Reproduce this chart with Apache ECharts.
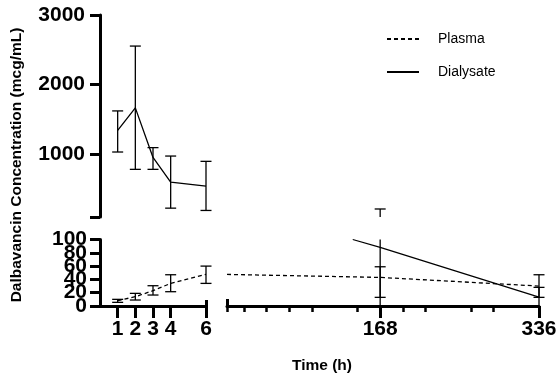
<!DOCTYPE html>
<html>
<head>
<meta charset="utf-8">
<script src="https://cdn.jsdelivr.net/npm/echarts@6/dist/echarts.min.js"></script>
<style>
    body { margin: 0; background: #fff; }
    #chart { width: 556px; height: 379px; }
</style>
</head>
<body>
<div id="chart"></div>
<script>
    // values
    const times = [1, 2, 3, 4, 6, 168, 336];

    const plasmaMean = [8, 14, 23, 34, 47.5, 43, 30];
    const plasmaLow = [5.5, 9, 16.5, 21.5, 34, 13, 13];
    const plasmaHigh = [10, 19, 30.5, 47, 60, 59, 47];

    const dialysateMean = [1345, 1667, 955, 602, 544, 88, 13.5];
    const dialysateLow = [1033, 784, 784, 227, 194, -39, -1];
    const dialysateHigh = [1623, 2554, 1096, 975, 899, 215, 28];

    // the solid dialysate line drawn in the lower right panel
    const dialysateLateX = [139, 168, 336];
    const dialysateLateY = [100, 88, 13.5];

    const leftTicks = [1, 2, 3, 4, 6];
    const rightTicks = [168, 336];
    const rightMinorTicks = [6, 24, 48, 72, 96, 144, 192, 216, 264, 288];
    const breakTicks = [6];
    const topTicks = [1000, 2000, 3000];
    const lowTicks = [0, 20, 40, 60, 80, 100];
    // the low labels overlap, so they are laid out on two axes
    const lowLabelsA = [0, 40, 80];
    const lowLabelsB = [20, 60, 100];

    const font = "'Liberation Sans', Arial, sans-serif";

    function pairs(xs, ys, from, to) {
        let out = [];
        xs.forEach((x, i) => {
            if (x >= from && x <= to) out.push([x, ys[i]]);
        });
        return out;
    }

    function bars(lows, highs, from, to) {
        let out = [];
        times.forEach((t, i) => {
            if (t >= from && t <= to) out.push([t, lows[i], highs[i]]);
        });
        return out;
    }

    function errorBar(params, api) {
        let cs = params.coordSys;
        let top = cs.y, bot = cs.y + cs.height;
        let x = api.value(0);
        let pLo = api.coord([x, api.value(1)]);
        let pHi = api.coord([x, api.value(2)]);
        let px = pLo[0];
        let clamp = v => Math.min(bot, Math.max(top, v));
        let style = { stroke: '#000', lineWidth: 1.3 };
        let children = [];
        let a = clamp(pHi[1]), b = clamp(pLo[1]);
        if (b - a > 0.5) {
            children.push({ type: 'line', shape: { x1: px, y1: a, x2: px, y2: b }, style: style });
        }
        [pHi[1], pLo[1]].forEach(y => {
            if (y >= top - 0.5 && y <= bot + 0.5) {
                children.push({ type: 'line', shape: { x1: px - 5.5, y1: y, x2: px + 5.5, y2: y }, style: style });
            }
        });
        return { type: 'group', children: children };
    }

    function errSeries(data, xi, yi) {
        return {
            type: 'custom',
            xAxisIndex: xi,
            yAxisIndex: yi,
            renderItem: errorBar,
            encode: { x: 0, y: [1, 2] },
            data: data,
            clip: false,
            z: 3
        };
    }

    // an axis that only draws a few extra ticks
    function tickAxis(grid, min, max, values, len, inside, width) {
        return {
            gridIndex: grid, type: 'value', min: min, max: max, position: 'bottom',
            axisLine: { show: false },
            axisTick: { show: true, inside: inside, customValues: values, length: len, lineStyle: { color: '#000', width: width } },
            axisLabel: { show: false },
            splitLine: { show: false }
        };
    }

    let labelStyle = { color: '#000', fontWeight: 'bold', fontSize: 21, fontFamily: font, formatter: v => String(v), hideOverlap: false, showMinLabel: true, showMaxLabel: true };
    let axisLine = { show: true, lineStyle: { color: '#000', width: 3 } };
    let tickLine = { color: '#000', width: 3 };

    let chart = echarts.init(document.getElementById('chart'));

    let option = {
        animation: false,
        backgroundColor: '#fff',
        grid: [
            { left: 100, top: 15, width: 106, height: 202, outerBoundsMode: 'none' },
            { left: 227, top: 15, width: 312, height: 202, outerBoundsMode: 'none' },
            { left: 100, top: 239.5, width: 106, height: 66.5, outerBoundsMode: 'none' },
            { left: 227, top: 239.5, width: 312, height: 66.5, outerBoundsMode: 'none' }
        ],
        legend: {
            data: ['Plasma', 'Dialysate'],
            orient: 'vertical',
            left: 381,
            top: 27,
            itemWidth: 32,
            itemHeight: 14,
            itemGap: 19,
            itemStyle: { opacity: 0 },
            textStyle: { color: '#000', fontSize: 14, fontFamily: font, padding: [0, 0, 0, 14] }
        },
        graphic: [
            {
                type: 'text',
                x: 17,
                y: 165,
                rotation: Math.PI / 2,
                style: {
                    text: 'Dalbavancin Concentration (mcg/mL)',
                    font: 'bold 15.5px ' + font,
                    fill: '#000',
                    textAlign: 'center',
                    textVerticalAlign: 'middle'
                }
            },
            {
                type: 'text',
                x: 322,
                y: 366,
                style: {
                    text: 'Time (h)',
                    font: 'bold 15.5px ' + font,
                    fill: '#000',
                    textAlign: 'center',
                    textVerticalAlign: 'middle'
                }
            }
        ],
        xAxis: [
            { gridIndex: 0, type: 'value', min: 0, max: 6, show: false },
            { gridIndex: 1, type: 'value', min: 6, max: 336, show: false },
            {
                gridIndex: 2, type: 'value', min: 0, max: 6, position: 'bottom',
                axisLine: axisLine,
                axisTick: { show: true, customValues: leftTicks, length: 12, lineStyle: tickLine },
                axisLabel: Object.assign({ customValues: leftTicks, margin: 13 }, labelStyle),
                splitLine: { show: false }
            },
            {
                gridIndex: 3, type: 'value', min: 6, max: 336, position: 'bottom',
                axisLine: axisLine,
                axisTick: { show: true, customValues: rightTicks, length: 12, lineStyle: tickLine },
                axisLabel: Object.assign({ customValues: rightTicks, margin: 13 }, labelStyle),
                splitLine: { show: false }
            },
            tickAxis(3, 6, 336, rightMinorTicks, 6, false, 2.5),
            tickAxis(3, 6, 336, breakTicks, 7, true, 3),
            tickAxis(2, 0, 6, breakTicks, 6, true, 3)
        ],
        yAxis: [
            {
                gridIndex: 0, type: 'value', min: 100, max: 3000,
                axisLine: axisLine,
                axisTick: { show: true, customValues: [100].concat(topTicks), length: 10, lineStyle: tickLine },
                axisLabel: Object.assign({ customValues: topTicks, margin: 15 }, labelStyle),
                splitLine: { show: false }
            },
            { gridIndex: 1, type: 'value', min: 100, max: 3000, show: false },
            {
                gridIndex: 2, type: 'value', min: 0, max: 100, position: 'left',
                axisLine: axisLine,
                axisTick: { show: true, customValues: lowTicks, length: 10, lineStyle: tickLine },
                axisLabel: Object.assign({ customValues: lowLabelsA, margin: 13 }, labelStyle),
                splitLine: { show: false }
            },
            { gridIndex: 3, type: 'value', min: 0, max: 100, show: false },
            {
                gridIndex: 2, type: 'value', min: 0, max: 100, position: 'left', offset: 0,
                axisLine: { show: false },
                axisTick: { show: false },
                axisLabel: Object.assign({ customValues: lowLabelsB, margin: 13 }, labelStyle),
                splitLine: { show: false }
            }
        ],
        series: [
            {
                name: 'Plasma', type: 'line', xAxisIndex: 2, yAxisIndex: 2,
                data: pairs(times, plasmaMean, 0, 6),
                symbol: 'none',
                lineStyle: { color: '#000', width: 1.3, type: [4, 3] },
                itemStyle: { color: '#000' }
            },
            {
                name: 'Dialysate', type: 'line', xAxisIndex: 0, yAxisIndex: 0,
                data: pairs(times, dialysateMean, 0, 6),
                symbol: 'none',
                lineStyle: { color: '#000', width: 1.3 },
                itemStyle: { color: '#000' }
            },
            {
                name: 'Plasma', type: 'line', xAxisIndex: 3, yAxisIndex: 3,
                data: pairs(times, plasmaMean, 6, 336),
                symbol: 'none',
                lineStyle: { color: '#000', width: 1.3, type: [4, 3] },
                itemStyle: { color: '#000' }
            },
            {
                name: 'Dialysate', type: 'line', xAxisIndex: 3, yAxisIndex: 3,
                data: pairs(dialysateLateX, dialysateLateY, 0, 336),
                symbol: 'none',
                lineStyle: { color: '#000', width: 1.3 },
                itemStyle: { color: '#000' }
            },
            errSeries(bars(dialysateLow, dialysateHigh, 0, 6), 0, 0),
            errSeries(bars(dialysateLow, dialysateHigh, 168, 336), 1, 1),
            errSeries(bars(dialysateLow, dialysateHigh, 168, 336), 3, 3),
            errSeries(bars(plasmaLow, plasmaHigh, 0, 6), 2, 2),
            errSeries(bars(plasmaLow, plasmaHigh, 168, 336), 3, 3)
        ]
    };

    chart.setOption(option);
</script>
</body>
</html>
